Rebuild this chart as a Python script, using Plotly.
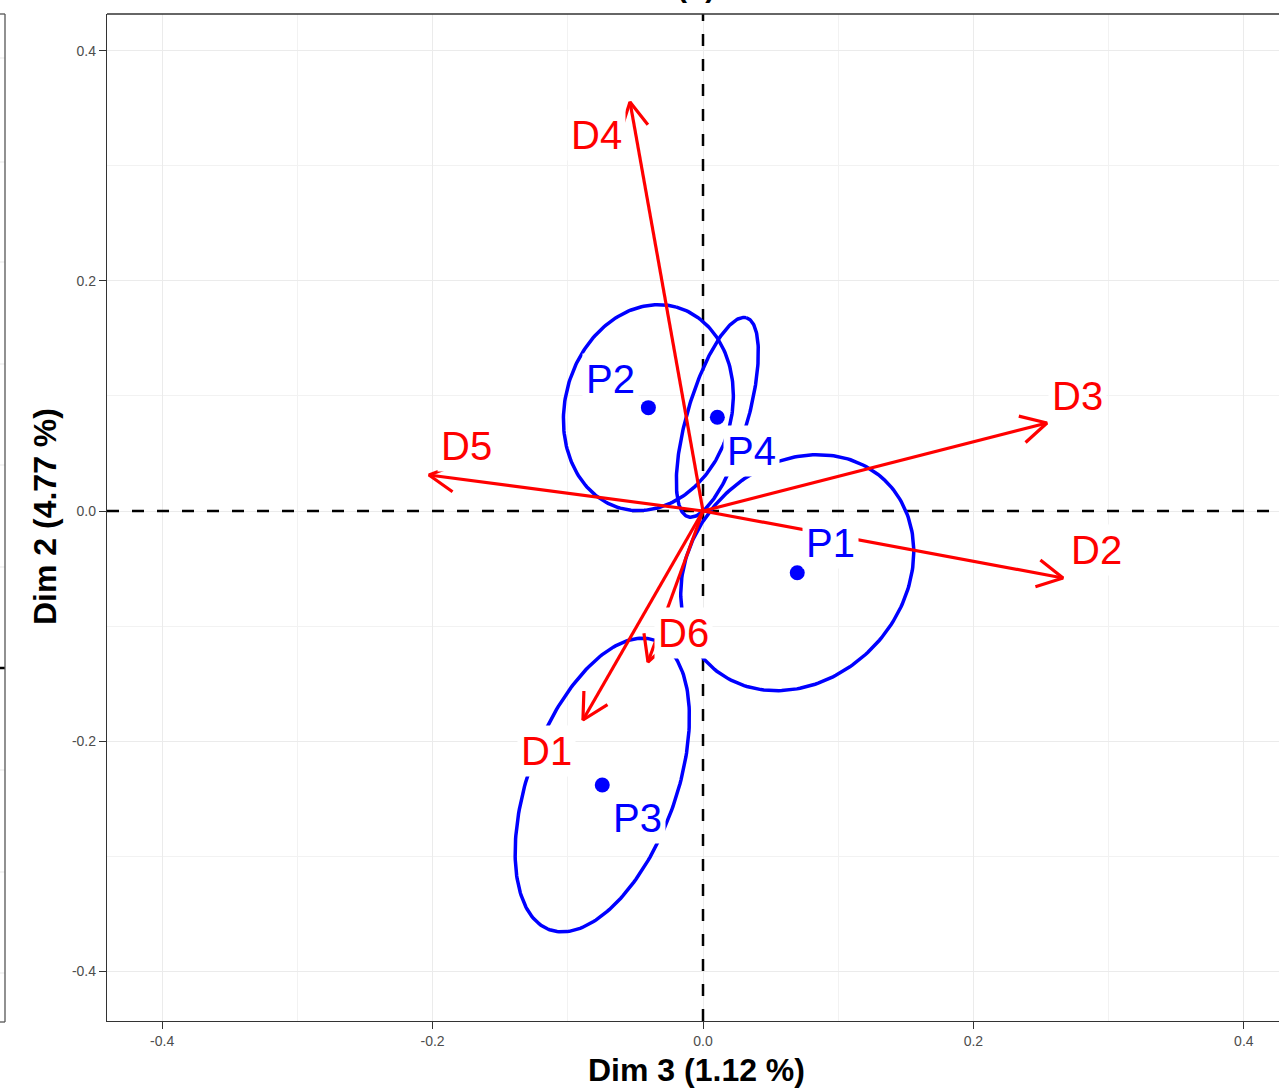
import numpy as np
import plotly.graph_objects as go

# ---------------- data ----------------
var_names = ["D1", "D2", "D3", "D4", "D5", "D6"]
var_x = [-0.0888, 0.2663, 0.2544, -0.0540, -0.2027, -0.0407]
var_y = [-0.1816, -0.0582, 0.0765, 0.3553, 0.0313, -0.1312]

grp_names = ["P1", "P2", "P3", "P4"]
grp_x = [0.0697, -0.0404, -0.0745, 0.0106]
grp_y = [-0.0536, 0.0898, -0.2381, 0.0814]

# confidence ellipses: conjugate semi-diameters (data units)
ell_ux = [0.0642, 0.0208, 0.0390, 0.0215]
ell_uy = [0.0809, 0.0873, 0.1257, 0.0865]
ell_vx = [0.0575, 0.0593, 0.0513, 0.0214]
ell_vy = [-0.0630, -0.0195, -0.0219, -0.0073]

tick_vals = [-0.4, -0.2, 0.0, 0.2, 0.4]
tick_text = ["-0.4", "-0.2", "0.0", "0.2", "0.4"]

x_title = "Dim 3 (1.12 %)"
y_title = "Dim 2 (4.77 %)"
panel_tag = "(b)"

# ---------------- layout constants ----------------
W, H = 1279, 1091
ML, MR, MT, MB = 107, 0, 14, 70
XR = [-0.4408, 0.4260]
YR = [-0.4431, 0.4318]
PW, PH = W - ML - MR, H - MT - MB
SX = PW / (XR[1] - XR[0])   # px per unit
SY = PH / (YR[1] - YR[0])

RED = "#FF0000"
BLUE = "#0000FF"
FONT = "Liberation Sans, Arial, sans-serif"

# label offsets in pixels (dx right, dy down)
var_lab_off = {"D1": (-36, 31), "D2": (33, -28), "D3": (31, -27),
               "D4": (-33, 33), "D5": (38, -29), "D6": (36, -29)}
grp_lab_off = {"P1": (33, -30), "P2": (-38, -29), "P3": (35, 33), "P4": (34, 34)}


def pxx(px):
    return (px - ML) / PW


def pxy(py):
    return (H - MB - py) / PH


fig = go.Figure()

# reference dashed lines
fig.add_trace(go.Scatter(x=XR, y=[0, 0], mode="lines",
                         line=dict(color="black", width=2.5, dash="12px,13px"),
                         hoverinfo="skip", showlegend=False))
fig.add_trace(go.Scatter(x=[0, 0], y=YR, mode="lines",
                         line=dict(color="black", width=2.5, dash="12px,13px"),
                         hoverinfo="skip", showlegend=False))

# ellipses
t = np.linspace(0, 2 * np.pi, 241)
for i, g in enumerate(grp_names):
    ex = grp_x[i] + ell_ux[i] * np.cos(t) + ell_vx[i] * np.sin(t)
    ey = grp_y[i] + ell_uy[i] * np.cos(t) + ell_vy[i] * np.sin(t)
    fig.add_trace(go.Scatter(x=ex, y=ey, mode="lines",
                             line=dict(color=BLUE, width=3.5),
                             hoverinfo="skip", showlegend=False))

# arrows (variables)
ARM, ANG = 29, np.deg2rad(28)
for i, v in enumerate(var_names):
    x1, y1 = var_x[i], var_y[i]
    fig.add_trace(go.Scatter(x=[0, x1], y=[0, y1], mode="lines",
                             line=dict(color=RED, width=3.2),
                             hoverinfo="skip", showlegend=False))
    bx, by = -x1 * SX, -y1 * SY
    n = np.hypot(bx, by)
    bx, by = bx / n, by / n
    hx, hy = [], []
    for s in (ANG, -ANG):
        rx = bx * np.cos(s) - by * np.sin(s)
        ry = bx * np.sin(s) + by * np.cos(s)
        hx.append(x1 + rx * ARM / SX)
        hy.append(y1 + ry * ARM / SY)
    fig.add_trace(go.Scatter(x=[hx[0], x1, hx[1]], y=[hy[0], y1, hy[1]], mode="lines",
                             line=dict(color=RED, width=3.2),
                             hoverinfo="skip", showlegend=False))

# group centres
fig.add_trace(go.Scatter(x=grp_x, y=grp_y, mode="markers",
                         marker=dict(color=BLUE, size=15),
                         hoverinfo="skip", showlegend=False))

# labels with white background
for i, v in enumerate(var_names):
    dx, dy = var_lab_off[v]
    fig.add_annotation(x=var_x[i], y=var_y[i], xref="x", yref="y", text=v,
                       showarrow=False, xshift=dx, yshift=-dy,
                       xanchor="center", yanchor="middle",
                       font=dict(family=FONT, size=40, color=RED),
                       bgcolor="white", borderpad=3)
for i, g in enumerate(grp_names):
    dx, dy = grp_lab_off[g]
    fig.add_annotation(x=grp_x[i], y=grp_y[i], xref="x", yref="y", text=g,
                       showarrow=False, xshift=dx, yshift=-dy,
                       xanchor="center", yanchor="middle",
                       font=dict(family=FONT, size=40, color=BLUE),
                       bgcolor="white", borderpad=3)

# axis titles
fig.add_annotation(x=pxx(696), y=pxy(1070), xref="paper", yref="paper", text=x_title,
                   showarrow=False, xanchor="center", yanchor="middle",
                   font=dict(family=FONT, size=32, color="black", weight="bold"))
fig.add_annotation(x=pxx(45), y=pxy(517), xref="paper", yref="paper", text=y_title,
                   showarrow=False, textangle=-90, xanchor="center", yanchor="middle",
                   font=dict(family=FONT, size=32, color="black", weight="bold"))
# cut-off panel tag at the top
fig.add_annotation(x=pxx(696), y=pxy(5), xref="paper", yref="paper", text=panel_tag,
                   showarrow=False, xanchor="center", yanchor="bottom",
                   font=dict(family=FONT, size=30, color="black", weight="bold"))

# top border of the panel
fig.add_shape(type="line", xref="paper", yref="paper", x0=0, x1=1, y0=1, y1=1,
              line=dict(color="#333333", width=1.3))

# fragment of neighbouring panel on the left
for gy in [58, 162, 262, 364, 465, 567, 770, 872, 973]:
    fig.add_shape(type="line", xref="paper", yref="paper", x0=pxx(0), x1=pxx(5),
                  y0=pxy(gy), y1=pxy(gy), line=dict(color="#EBEBEB", width=1.2))
fig.add_shape(type="line", xref="paper", yref="paper", x0=pxx(0), x1=pxx(5),
              y0=pxy(668), y1=pxy(668), line=dict(color="black", width=2.5))
fig.add_shape(type="line", xref="paper", yref="paper", x0=pxx(5), x1=pxx(5),
              y0=pxy(14), y1=pxy(1022), line=dict(color="#555555", width=1.3))
fig.add_shape(type="line", xref="paper", yref="paper", x0=pxx(0), x1=pxx(5),
              y0=pxy(14), y1=pxy(14), line=dict(color="#555555", width=1.3))
fig.add_shape(type="line", xref="paper", yref="paper", x0=pxx(0), x1=pxx(5),
              y0=pxy(1022), y1=pxy(1022), line=dict(color="#555555", width=1.3))

axis_common = dict(
    tickvals=tick_vals, ticktext=tick_text,
    showgrid=True, gridcolor="#EBEBEB", gridwidth=1.4,
    minor=dict(dtick=0.1, showgrid=True, gridcolor="#F2F2F2", gridwidth=1),
    zeroline=False, showline=True, linecolor="#333333", linewidth=1.3,
    ticks="outside", ticklen=7, tickcolor="#333333", tickwidth=1.2,
    tickfont=dict(family=FONT, size=14, color="#4D4D4D"),
    automargin=False,
)

fig.update_layout(
    width=W, height=H,
    margin=dict(l=ML, r=MR, t=MT, b=MB),
    paper_bgcolor="white", plot_bgcolor="white",
    xaxis=dict(range=XR, **axis_common),
    yaxis=dict(range=YR, **axis_common),
    showlegend=False,
)

fig.write_html("out.html", config={"displayModeBar": False},
               post_script="document.body.style.margin='0px';document.body.style.overflow='hidden';")
